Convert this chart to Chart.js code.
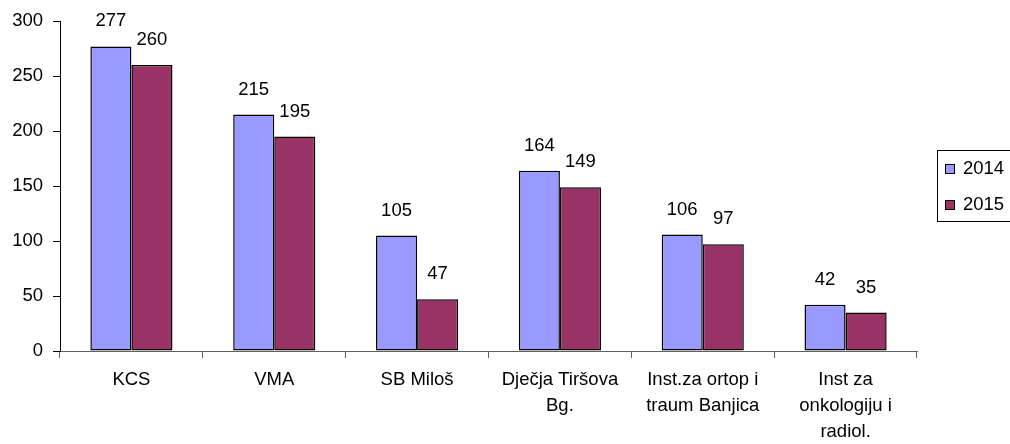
<!DOCTYPE html>
<html>
<head>
<meta charset="utf-8">
<script src="https://cdn.jsdelivr.net/npm/chart.js@4/dist/chart.umd.min.js"></script>
<style>
  html, body { margin: 0; padding: 0; background: #fff; }
  #wrap { width: 1010px; height: 444px; position: relative; }
</style>
</head>
<body>
<div id="wrap"><canvas id="myChart"></canvas></div>
<script>
// categories (hospitals)
var hospitals = ['KCS', 'VMA', 'SB Miloš', ['Dječja Tiršova', 'Bg.'], ['Inst.za ortop i', 'traum Banjica'], ['Inst za', 'onkologiju i', 'radiol.']];
var values2014 = [277, 215, 105, 164, 106, 42];
var values2015 = [260, 195, 47, 149, 97, 35];
var yTicks = [0, 50, 100, 150, 200, 250, 300];

var FONT = 'Liberation Sans, Arial, sans-serif';

// numbers above the bars
var barLabels = {
    id: 'barLabels',
    afterDatasetsDraw: function(chart) {
        var ctx = chart.ctx;
        ctx.save();
        ctx.font = '18.5px ' + FONT;
        ctx.fillStyle = '#000';
        ctx.textAlign = 'center';
        ctx.textBaseline = 'middle';
        chart.data.datasets.forEach(function(ds, i) {
            chart.getDatasetMeta(i).data.forEach(function(bar, j) {
                ctx.fillText(ds.data[j], bar.x, bar.y - 25);
            });
        });
        ctx.restore();
    }
};

// excel style legend box on the right
var boxLegend = {
    id: 'boxLegend',
    afterDraw: function(chart) {
        var ctx = chart.ctx;
        ctx.save();
        ctx.strokeStyle = '#000';
        ctx.lineWidth = 1;
        ctx.strokeRect(937.5, 150.5, 80, 71);
        ctx.font = '18.5px ' + FONT;
        ctx.textBaseline = 'middle';
        ctx.textAlign = 'left';
        chart.data.datasets.forEach(function(ds, i) {
            var y = 169 + i * 36;
            ctx.fillStyle = ds.backgroundColor;
            ctx.fillRect(945, y - 5, 10, 10);
            ctx.strokeStyle = '#000';
            ctx.strokeRect(945.5, y - 4.5, 9, 9);
            ctx.fillStyle = '#000';
            ctx.fillText(ds.label, 963, y);
        });
        ctx.restore();
    }
};

var ctx = document.getElementById('myChart').getContext('2d');
var chart = new Chart(ctx, {
    type: 'bar',
    data: {
        labels: hospitals,
        datasets: [{
            label: '2014',
            backgroundColor: '#9999FF',
            borderColor: '#000',
            borderWidth: 1.5,
            borderSkipped: false,
            data: values2014
        }, {
            label: '2015',
            backgroundColor: '#993366',
            borderColor: '#000',
            borderWidth: 1.5,
            borderSkipped: false,
            data: values2015
        }]
    },
    options: {
        responsive: true,
        maintainAspectRatio: false,
        animation: false,
        layout: { padding: { top: 21, right: 93, left: 0, bottom: 0 } },
        datasets: { bar: { categoryPercentage: 0.575, barPercentage: 1.0 } },
        plugins: {
            legend: { display: false },
            tooltip: { enabled: false }
        },
        scales: {
            x: {
                grid: { drawOnChartArea: false, drawTicks: true, tickLength: 7, color: '#606060', offset: true },
                border: { color: '#606060' },
                ticks: { color: '#000', padding: 9, maxRotation: 0, autoSkip: false, font: { family: FONT, size: 18.5, lineHeight: 1.4 } },
                afterFit: function(scale) { scale.height = 93; }
            },
            y: {
                min: 0,
                max: 300,
                afterBuildTicks: function(scale) {
                    scale.ticks = yTicks.map(function(v) { return { value: v }; });
                },
                grid: { drawOnChartArea: false, drawTicks: true, tickLength: 7, color: '#000' },
                border: { color: '#000' },
                ticks: { color: '#000', padding: 10, font: { family: FONT, size: 18.5 } },
                afterFit: function(scale) { scale.width = 60; }
            }
        }
    },
    plugins: [barLabels, boxLegend]
});
</script>
</body>
</html>
